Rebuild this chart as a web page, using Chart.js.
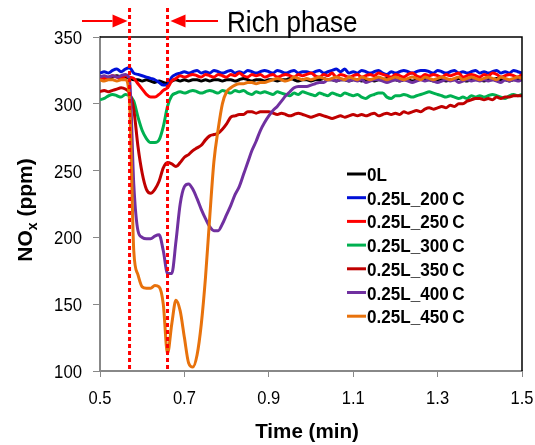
<!DOCTYPE html>
<html>
<head>
<meta charset="utf-8">
<script src="https://cdn.jsdelivr.net/npm/chart.js@4"></script>
<style>
  html, body { margin: 0; padding: 0; background: #fff; }
  canvas { display: block; }
</style>
</head>
<body>
<canvas id="nox" width="535" height="445"></canvas>
<script>
// time axis (min), one sample every 0.01 min
const times = [
  0.50, 0.51, 0.52, 0.53, 0.54, 0.55, 0.56, 0.57, 0.58, 0.59,
  0.60, 0.61, 0.62, 0.63, 0.64, 0.65, 0.66, 0.67, 0.68, 0.69,
  0.70, 0.71, 0.72, 0.73, 0.74, 0.75, 0.76, 0.77, 0.78, 0.79,
  0.80, 0.81, 0.82, 0.83, 0.84, 0.85, 0.86, 0.87, 0.88, 0.89,
  0.90, 0.91, 0.92, 0.93, 0.94, 0.95, 0.96, 0.97, 0.98, 0.99,
  1.00, 1.01, 1.02, 1.03, 1.04, 1.05, 1.06, 1.07, 1.08, 1.09,
  1.10, 1.11, 1.12, 1.13, 1.14, 1.15, 1.16, 1.17, 1.18, 1.19,
  1.20, 1.21, 1.22, 1.23, 1.24, 1.25, 1.26, 1.27, 1.28, 1.29,
  1.30, 1.31, 1.32, 1.33, 1.34, 1.35, 1.36, 1.37, 1.38, 1.39,
  1.40, 1.41, 1.42, 1.43, 1.44, 1.45, 1.46, 1.47, 1.48, 1.49,
  1.50
];

// NOx (ppm) per run
const nox0L = [
  320, 320, 319, 320, 321, 320, 320, 319, 318, 318,
  317, 318, 317, 316, 317, 316, 315, 317, 318, 317,
  318, 317, 318, 318, 317, 318, 317, 318, 318, 317,
  318, 318, 317, 318, 319, 318, 317, 318, 318, 317,
  318, 318, 317, 318, 318, 319, 318, 317, 318, 318,
  317, 318, 318, 319, 318, 318, 317, 318, 318, 317,
  318, 318, 317, 318, 318, 317, 318, 318, 319, 318,
  318, 317, 318, 318, 317, 318, 319, 318, 318, 317,
  318, 318, 317, 318, 318, 319, 318, 317, 318, 318,
  318, 317, 318, 318, 319, 318, 318, 317, 318, 318,
  319
];
const nox200 = [
  323, 324, 323, 325, 326, 324, 326, 327, 323, 322,
  321, 320, 319, 318, 316, 314, 314, 320, 322, 323,
  324, 323, 324, 325, 323, 324, 323, 325, 324, 323,
  324, 325, 323, 324, 323, 325, 324, 323, 324, 325,
  324, 323, 325, 324, 323, 324, 325, 323, 324, 324,
  323, 324, 325, 323, 324, 325, 326, 324, 326, 323,
  324, 323, 325, 324, 323, 324, 325, 323, 322, 324,
  323, 324, 325, 324, 323, 324, 325, 325, 324, 323,
  325, 324, 323, 324, 325, 323, 324, 323, 324, 325,
  323, 324, 323, 324, 325, 323, 324, 323, 325, 324,
  323
];
const nox250 = [
  320, 319, 320, 321, 320, 319, 321, 320, 319, 315,
  311, 307, 305, 305, 307, 310, 312, 317, 319, 321,
  320, 321, 322, 321, 320, 322, 321, 320, 322, 321,
  320, 322, 321, 323, 321, 320, 322, 321, 322, 320,
  321, 322, 320, 321, 322, 321, 320, 322, 321, 322,
  323, 321, 320, 322, 321, 323, 320, 322, 321, 320,
  321, 322, 320, 321, 322, 321, 323, 322, 321, 320,
  322, 321, 320, 322, 323, 321, 320, 322, 321, 322,
  321, 320, 322, 321, 322, 323, 320, 321, 322, 321,
  320, 322, 321, 323, 322, 320, 321, 322, 321, 320,
  322
];
const nox300 = [
  303, 304, 306, 307, 306, 305, 307, 306, 302, 290,
  280, 274, 271, 271, 273, 283, 298, 306, 308, 309,
  308, 309, 310, 309, 308, 309, 310, 309, 308, 310,
  309, 308, 310, 309, 310, 308, 307, 309, 308, 309,
  308, 307, 309, 308, 307, 306, 308, 307, 309, 308,
  307, 306, 308, 307, 306, 308, 307, 306, 308, 307,
  306, 307, 305, 304, 306, 307, 308, 308, 305, 304,
  306, 306, 307, 306, 305, 306, 307, 308, 309, 308,
  307, 306, 305, 306, 305, 304, 305, 304, 306, 305,
  306, 305, 306, 307, 306, 305, 304, 306, 307, 306,
  307
];
const nox350 = [
  309, 310, 309, 310, 311, 312, 311, 308, 296, 268,
  248, 236, 233, 236, 242, 252, 256, 255, 253, 256,
  260, 262, 265, 267, 269, 273, 276, 277, 278, 281,
  285, 290, 291, 292, 292, 294, 294, 293, 294, 294,
  294, 293, 292, 293, 292, 291, 292, 293, 292, 291,
  290, 291, 292, 291, 290, 289, 290, 291, 290, 291,
  292, 291, 292, 291, 292, 293, 291, 292, 293, 292,
  293, 292, 294, 293, 294, 295, 294, 296, 297, 296,
  297, 298, 297, 299, 298, 300, 300, 302, 303, 304,
  304, 303, 304, 303, 305, 304, 305, 305, 306, 306,
  306
];
const nox400 = [
  320, 321, 320, 321, 320, 321, 322, 318, 240, 205,
  200, 199, 199, 201, 202, 190, 173, 173, 197, 225,
  238, 240, 236, 229, 221, 214, 208, 205, 205, 210,
  217, 224, 232, 238, 247, 256, 265, 272, 280, 286,
  291, 295, 298, 302, 306, 309, 312, 313, 313, 313,
  314, 315, 316, 316, 318, 318, 317, 318, 318, 317,
  318, 317, 318, 316, 317, 318, 318, 317, 316, 317,
  318, 317, 318, 317, 316, 317, 318, 317, 318, 317,
  316, 317, 318, 317, 318, 316, 317, 318, 317, 318,
  317, 318, 317, 318, 317, 316, 318, 317, 318, 317,
  318
];
const nox450 = [
  318, 317, 318, 318, 317, 318, 318, 302, 190, 172,
  163, 162, 162, 164, 163, 150, 113, 135, 153, 145,
  125, 106, 103, 112, 135, 170, 215, 257, 281, 300,
  309, 312, 314, 315, 315, 316, 316, 315, 316, 316,
  317, 318, 319, 318, 317, 318, 320, 319, 318, 319,
  318, 319, 320, 319, 318, 319, 320, 319, 318, 320,
  319, 318, 320, 319, 318, 319, 320, 319, 318, 319,
  320, 319, 318, 319, 320, 319, 318, 320, 319, 318,
  319, 320, 319, 318, 319, 320, 318, 319, 320, 319,
  318, 319, 320, 319, 318, 320, 319, 318, 319, 320,
  319
];

const seriesNames = ['0L', '0.25L_200\u2009C', '0.25L_250\u2009C', '0.25L_300\u2009C',
                     '0.25L_350\u2009C', '0.25L_400\u2009C', '0.25L_450\u2009C'];
const seriesValues = [nox0L, nox200, nox250, nox300, nox350, nox400, nox450];
const seriesColors = ['#000000', '#0010d8', '#ff0000', '#00b050', '#c00000', '#7030a0', '#e8720c'];

const xTicks = [0.5, 0.7, 0.9, 1.1, 1.3, 1.5];
const yTicks = [100, 150, 200, 250, 300, 350];

// rich phase between these two times (min)
const richStart = 0.57;
const richEnd = 0.66;

const FONT = '"Liberation Sans", Arial, sans-serif';

const datasets = seriesValues.map((vals, i) => ({
  label: seriesNames[i],
  data: times.map((t, k) => ({ x: t, y: vals[k] })),
  borderColor: seriesColors[i],
  backgroundColor: seriesColors[i],
  borderWidth: 3,
  pointRadius: 0,
  cubicInterpolationMode: 'monotone',
  order: seriesValues.length - i
}));

// text squeezed horizontally, the labels use a condensed face
function text(ctx, str, x, y, font, align, sx) {
  ctx.save();
  ctx.font = font;
  ctx.textAlign = align;
  ctx.textBaseline = 'alphabetic';
  ctx.translate(x, y);
  ctx.scale(sx, 1);
  ctx.fillText(str, 0, 0);
  ctx.restore();
}

function arrow(ctx, x0, x1, y) {
  // shaft from x0, tip at x1
  const dir = Math.sign(x1 - x0);
  const headLen = 15, headHalf = 6.5;
  ctx.beginPath();
  ctx.moveTo(x0, y);
  ctx.lineTo(x1 - dir * headLen, y);
  ctx.stroke();
  ctx.beginPath();
  ctx.moveTo(x1, y);
  ctx.lineTo(x1 - dir * headLen, y - headHalf);
  ctx.lineTo(x1 - dir * headLen, y + headHalf);
  ctx.closePath();
  ctx.fill();
}

const overlay = {
  id: 'overlay',
  afterDraw(chart) {
    const { ctx, chartArea: a, scales: { x, y } } = chart;
    ctx.save();

    // top and right frame
    ctx.strokeStyle = '#000';
    ctx.lineWidth = 1.5;
    ctx.beginPath();
    ctx.moveTo(a.left, a.top);
    ctx.lineTo(a.right, a.top);
    ctx.lineTo(a.right, a.bottom);
    ctx.stroke();

    // tick labels
    ctx.fillStyle = '#000';
    x.ticks.forEach(t => {
      text(ctx, t.value.toFixed(1), x.getPixelForValue(t.value), 404, '19px ' + FONT, 'center', 0.87);
    });
    y.ticks.forEach(t => {
      text(ctx, String(t.value), 82, y.getPixelForValue(t.value) + 7, '19px ' + FONT, 'right', 0.88);
    });

    // rich phase markers
    const xs = x.getPixelForValue(richStart);
    const xe = x.getPixelForValue(richEnd);
    ctx.strokeStyle = '#ff0000';
    ctx.lineWidth = 3;
    ctx.setLineDash([4, 3]);
    [xs, xe].forEach(px => {
      ctx.beginPath();
      ctx.moveTo(px, 8);
      ctx.lineTo(px, a.bottom);
      ctx.stroke();
    });
    ctx.setLineDash([]);

    ctx.fillStyle = '#ff0000';
    ctx.lineWidth = 2;
    arrow(ctx, 82, xs - 2, 21);
    arrow(ctx, 218, xe + 3, 21);

    ctx.fillStyle = '#000';
    text(ctx, 'Rich phase', 227, 32, '30px ' + FONT, 'left', 0.87);

    // legend inside the plot
    chart.data.datasets.forEach((ds, i) => {
      const ly = 174 + i * 23.7;
      ctx.strokeStyle = ds.borderColor;
      ctx.lineWidth = 3;
      ctx.beginPath();
      ctx.moveTo(347, ly);
      ctx.lineTo(366, ly);
      ctx.stroke();
      ctx.fillStyle = '#000';
      text(ctx, ds.label, 367, ly + 7, 'bold 19px ' + FONT, 'left', 0.9);
    });

    // axis titles
    text(ctx, 'Time (min)', (a.left + a.right) / 2 - 4, 438, 'bold 21px ' + FONT, 'center', 0.98);

    ctx.translate(32, 210);
    ctx.rotate(-Math.PI / 2);
    const big = 'bold 21px ' + FONT, small = 'bold 14px ' + FONT;
    ctx.font = big;
    const w1 = ctx.measureText('NO').width;
    const w3 = ctx.measureText(' (ppm)').width;
    ctx.font = small;
    const w2 = ctx.measureText('x').width;
    let px = -(w1 + w2 + w3) / 2;
    ctx.textAlign = 'left';
    ctx.textBaseline = 'alphabetic';
    ctx.font = big;
    ctx.fillText('NO', px, 0);
    px += w1;
    ctx.font = small;
    ctx.fillText('x', px, 5);
    px += w2;
    ctx.font = big;
    ctx.fillText(' (ppm)', px, 0);

    ctx.restore();
  }
};

new Chart(document.getElementById('nox').getContext('2d'), {
  type: 'line',
  data: { datasets },
  options: {
    responsive: false,
    animation: false,
    layout: { padding: { top: 37, right: 13, left: 0, bottom: 0 } },
    plugins: { legend: { display: false }, tooltip: { enabled: false } },
    scales: {
      x: {
        type: 'linear',
        min: 0.5,
        max: 1.5,
        afterBuildTicks: s => { s.ticks = xTicks.map(v => ({ value: v })); },
        afterFit: s => { s.height = 74; },
        grid: { display: true, drawOnChartArea: false, drawTicks: true, tickLength: 6, color: '#888', lineWidth: 1 },
        border: { display: true, color: '#888', width: 2 },
        ticks: { display: false }
      },
      y: {
        type: 'linear',
        min: 100,
        max: 350,
        afterBuildTicks: s => { s.ticks = yTicks.map(v => ({ value: v })); },
        afterFit: s => { s.width = 100; },
        grid: { display: true, drawOnChartArea: false, drawTicks: true, tickLength: 7, color: '#888', lineWidth: 1 },
        border: { display: true, color: '#888', width: 2 },
        ticks: { display: false }
      }
    }
  },
  plugins: [overlay]
});
</script>
</body>
</html>
